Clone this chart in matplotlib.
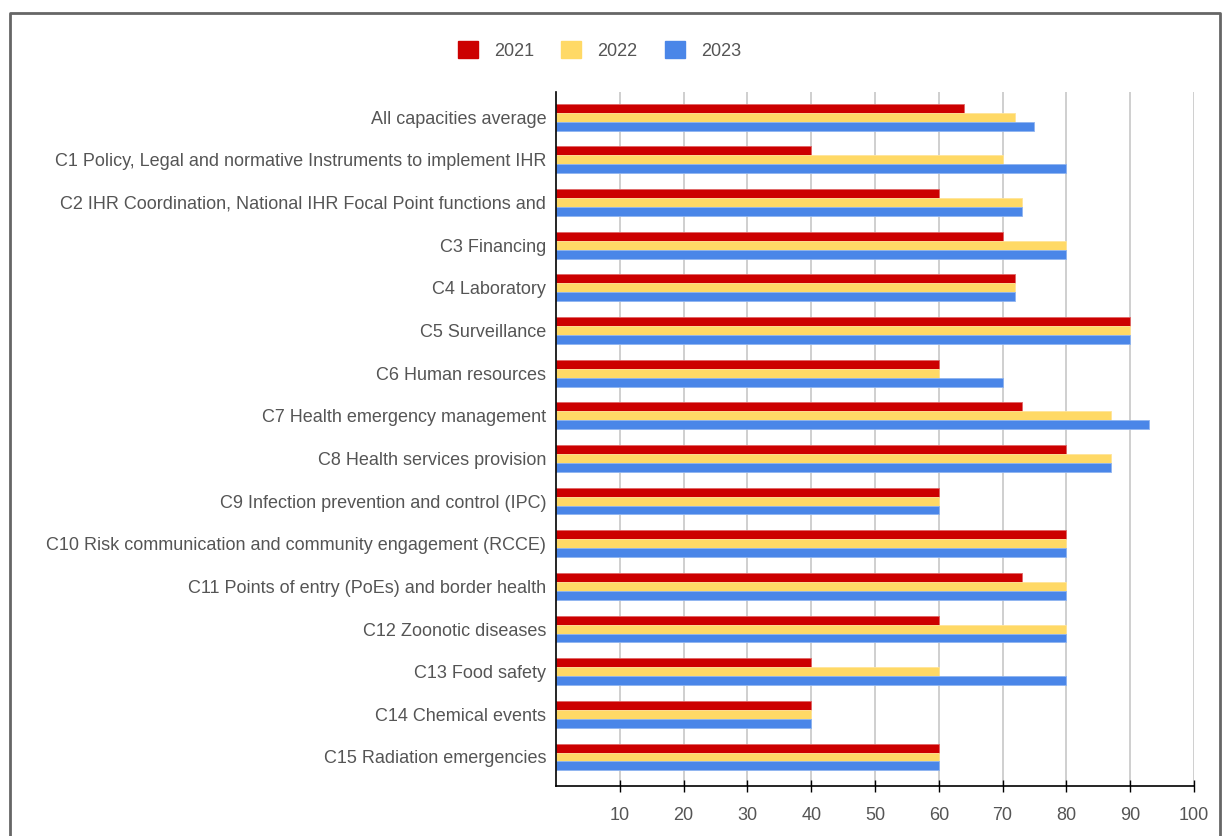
import matplotlib.pyplot as plt
import matplotlib.patches as mpatches
import numpy as np

capacities = [
    "All capacities average",
    "C1 Policy, Legal and normative Instruments to implement IHR",
    "C2 IHR Coordination, National IHR Focal Point functions and",
    "C3 Financing",
    "C4 Laboratory",
    "C5 Surveillance",
    "C6 Human resources",
    "C7 Health emergency management",
    "C8 Health services provision",
    "C9 Infection prevention and control (IPC)",
    "C10 Risk communication and community engagement (RCCE)",
    "C11 Points of entry (PoEs) and border health",
    "C12 Zoonotic diseases",
    "C13 Food safety",
    "C14 Chemical events",
    "C15 Radiation emergencies",
]
scores_2021 = [64, 40, 60, 70, 72, 90, 60, 73, 80, 60, 80, 73, 60, 40, 40, 60]
scores_2022 = [72, 70, 73, 80, 72, 90, 60, 87, 87, 60, 80, 80, 80, 60, 40, 60]
scores_2023 = [75, 80, 73, 80, 72, 90, 70, 93, 87, 60, 80, 80, 80, 80, 40, 60]
years = ["2021", "2022", "2023"]
colors = ["#cc0000", "#ffd966", "#4a86e8"]
edge_colors = ["#e06666", "#ffe599", "#8fb4f0"]
x_ticks = [10, 20, 30, 40, 50, 60, 70, 80, 90, 100]

text_color = "#555555"
plt.rcParams["font.family"] = ["Liberation Sans", "DejaVu Sans"]

fig = plt.figure(figsize=(12.26, 8.36), dpi=100)
ax = fig.add_axes([0.4535, 0.0598, 0.5204, 0.8302])

pos = np.arange(len(capacities))
bar_h = 0.21
for i, vals in enumerate([scores_2021, scores_2022, scores_2023]):
    ax.barh(pos + (i - 1) * bar_h, vals, height=bar_h, color=colors[i],
            edgecolor=edge_colors[i], linewidth=0.6, zorder=3)

ax.set_xlim(0, 100)
ax.set_ylim(len(capacities) - 1 + 0.68, -0.59)
ax.set_xticks(x_ticks)
ax.set_xticklabels([str(t) for t in x_ticks], color=text_color, fontsize=13)
ax.set_yticks(pos)
ax.set_yticklabels(capacities, color=text_color, fontsize=13)
ax.tick_params(axis="y", length=0, pad=7)
ax.tick_params(axis="x", direction="inout", length=8, width=1, pad=11)
ax.grid(axis="x", color="#cccccc", linewidth=1.3, zorder=0)

for side in ["top", "right"]:
    ax.spines[side].set_visible(False)
ax.spines["left"].set_color("black")
ax.spines["bottom"].set_color("black")
ax.spines["left"].set_linewidth(1.2)
ax.spines["bottom"].set_linewidth(1.2)
ax.spines["left"].set_zorder(4)

handles = [mpatches.Patch(color=c, label=y) for c, y in zip(colors, years)]
leg = fig.legend(handles=handles, loc="center", bbox_to_anchor=(0.489, 0.94),
                 ncol=3, frameon=False, fontsize=13, handlelength=1.1,
                 handleheight=1.1, handletextpad=0.9, columnspacing=1.5)
for t in leg.get_texts():
    t.set_color(text_color)

# outer frame, open at the bottom edge
frame_x = [0.0085, 0.0085, 0.9955, 0.9955]
frame_y = [0.0, 0.985, 0.985, 0.0]
fig.add_artist(plt.Line2D(frame_x, frame_y, transform=fig.transFigure,
                          color="#666666", linewidth=2))

fig.savefig("out.png", dpi=100)
